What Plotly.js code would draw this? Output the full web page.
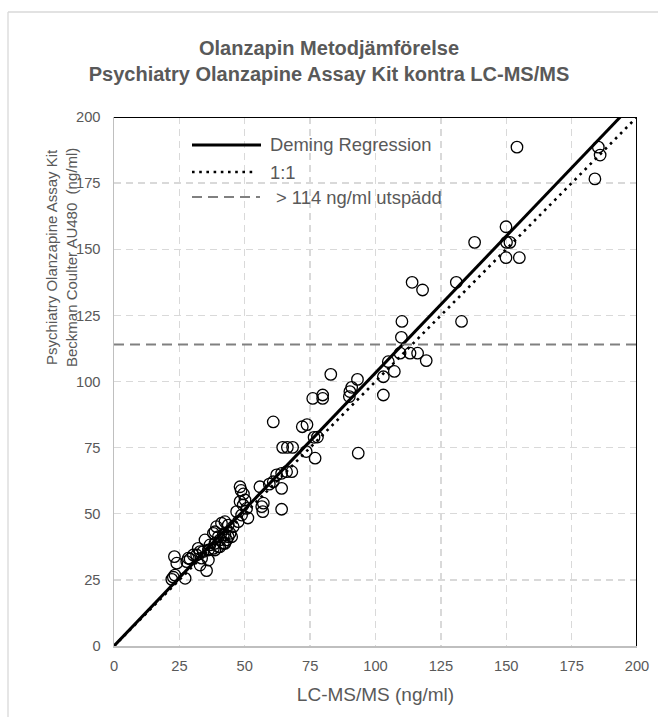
<!DOCTYPE html>
<html>
<head>
<meta charset="utf-8">
<script src="https://cdn.plot.ly/plotly-3.0.1.min.js"></script>
<style>
html,body{margin:0;padding:0;background:#fff;}
#chart{width:658px;height:717px;}
</style>
</head>
<body>
<div id="chart"></div>
<script>
// LC-MS/MS values (x) and Psychiatry Olanzapine Assay Kit values (y), ng/ml
const lcms = [
  23.1, 24.0, 23.3, 22.7, 22.1, 27.2, 27.8, 28.4, 30.3, 35.4,
  32.9, 33.5, 31.6, 32.9, 34.8, 29.1, 32.2, 34.1, 36.1, 36.1,
  38.6, 36.7, 38.6, 40.5, 38.0, 39.9, 41.8, 43.1, 42.4, 38.6,
  44.4, 45.0, 39.2, 41.1, 42.4, 43.7, 45.6, 47.5, 38.0, 39.9,
  41.8, 43.7, 40.5, 42.4, 46.9, 48.8, 51.2, 48.2, 50.1, 49.4,
  50.7, 57.1, 56.5, 56.9, 48.6, 49.5, 48.2, 55.8, 59.4, 60.9,
  62.2, 64.1, 66.0, 68.0, 64.1, 64.1, 64.5, 66.3, 68.3, 60.9,
  72.0, 73.8, 76.5, 77.8, 76.9, 73.5, 82.9, 93.1, 90.9, 90.2,
  90.0, 76.0, 79.8, 79.8, 93.4, 103.0, 103.0, 104.9, 107.2, 109.4,
  113.2, 116.1, 119.4, 109.9, 110.1, 114.0, 118.0, 130.9, 132.9, 137.9,
  149.9, 150.1, 151.4, 149.9, 155.0, 154.1, 185.2, 185.9, 183.9
];
const assay = [
  33.8, 31.3, 26.8, 26.0, 25.2, 25.6, 31.9, 33.2, 34.4, 28.5,
  30.6, 33.2, 34.4, 35.7, 40.1, 32.9, 36.9, 35.7, 36.3, 32.5,
  36.3, 38.2, 38.8, 40.1, 36.9, 37.5, 38.8, 40.1, 42.0, 43.2,
  42.6, 41.3, 45.1, 46.4, 47.0, 45.7, 45.1, 47.0, 42.6, 41.3,
  42.0, 41.3, 37.5, 38.8, 50.8, 49.5, 48.4, 54.6, 55.2, 53.3,
  52.0, 54.0, 52.7, 50.8, 58.8, 57.5, 60.2, 60.2, 61.2, 62.1,
  64.7, 65.3, 65.9, 65.9, 59.6, 51.7, 75.1, 75.1, 75.1, 84.7,
  82.9, 83.7, 78.9, 79.0, 71.0, 73.5, 102.7, 100.8, 97.8, 96.2,
  94.3, 93.6, 94.9, 93.6, 72.9, 101.8, 94.9, 107.5, 103.8, 110.7,
  110.7, 110.7, 107.9, 116.7, 122.7, 137.5, 134.6, 137.5, 122.7, 152.6,
  158.5, 152.6, 152.6, 146.8, 146.8, 188.6, 188.6, 185.6, 176.6
];
const demingSlope = 1.033;
const demingIntercept = 0;
const lineX = [0, 200];
const cutoff = 114;
const tickValues = [0, 25, 50, 75, 100, 125, 150, 175, 200];
const legendNames = ['Deming Regression', '1:1', '> 114 ng/ml utspädd'];

const FONT = 'Liberation Sans, Arial, sans-serif';
const TXT = '#595959';

const traces = [
  {
    x: lineX, y: lineX, mode: 'lines', name: legendNames[1], showlegend: false,
    line: {color: '#000', width: 2.6, dash: '2.6px,4.6px'}, hoverinfo: 'skip'
  },
  {
    x: lineX, y: lineX.map(v => demingIntercept + demingSlope * v), mode: 'lines',
    name: legendNames[0], showlegend: false,
    line: {color: '#000', width: 3}, hoverinfo: 'skip'
  },
  {
    x: lineX, y: lineX.map(() => cutoff), mode: 'lines', name: legendNames[2], showlegend: false,
    line: {color: '#808080', width: 2, dash: '10px,6px'}, hoverinfo: 'skip'
  },
  {
    x: lcms, y: assay, mode: 'markers', name: 'Prover', showlegend: false,
    marker: {symbol: 'circle-open', size: 11.5, color: '#000', line: {width: 1.3, color: '#000'}}
  }
];

function px2x(px){ return (px - 114) / 523; }
function py2y(py){ return (646 - py) / 529; }

const layout = {
  width: 658, height: 717,
  margin: {l: 114, r: 21, t: 117, b: 71, pad: 0},
  paper_bgcolor: '#fff', plot_bgcolor: '#fff',
  font: {family: FONT, color: TXT},
  title: {
    text: 'Olanzapin Metodjämförelse<br>Psychiatry Olanzapine Assay Kit kontra LC-MS/MS',
    font: {family: FONT, size: 20, color: TXT, weight: 'bold'},
    x: 0.5, xref: 'container', xanchor: 'center',
    y: 1 - 55/717, yref: 'container', yanchor: 'middle'
  },
  xaxis: {
    range: [0, 200], tickvals: tickValues, ticktext: tickValues.map(String),
    showgrid: true, gridcolor: '#d9d9d9', gridwidth: 1.4, griddash: '7px,5px',
    zeroline: false, showline: true, linecolor: '#bfbfbf', linewidth: 1.5,
    ticks: '', ticklabelstandoff: 6,
    tickfont: {family: FONT, size: 14.7, color: TXT},
    title: {text: 'LC-MS/MS (ng/ml)', font: {family: FONT, size: 19, color: TXT}, standoff: 14},
    fixedrange: true
  },
  yaxis: {
    range: [0, 200], tickvals: tickValues, ticktext: tickValues.map(String),
    showgrid: true, gridcolor: '#d9d9d9', gridwidth: 1.4, griddash: '7px,5px',
    zeroline: false, showline: true, linecolor: '#bfbfbf', linewidth: 1.5,
    ticks: '', ticklabelstandoff: 9,
    tickfont: {family: FONT, size: 14.7, color: TXT},
    fixedrange: true
  },
  shapes: [
    {type: 'line', xref: 'x', yref: 'y', x0: 0, x1: 200, y0: 200, y1: 200, line: {color: '#000', width: 2}, layer: 'above'},
    {type: 'line', xref: 'x', yref: 'y', x0: 200, x1: 200, y0: 0, y1: 200, line: {color: '#000', width: 2}, layer: 'above'},
    {type: 'line', xref: 'paper', yref: 'paper', x0: px2x(8), x1: px2x(660), y0: py2y(12), y1: py2y(12), line: {color: '#d9d9d9', width: 1.3}},
    {type: 'line', xref: 'paper', yref: 'paper', x0: px2x(8), x1: px2x(8), y0: py2y(12), y1: py2y(720), line: {color: '#d9d9d9', width: 1.3}},
    {type: 'line', xref: 'paper', yref: 'paper', x0: px2x(192), x1: px2x(261), y0: py2y(145), y1: py2y(145), line: {color: '#000', width: 3}},
    {type: 'line', xref: 'paper', yref: 'paper', x0: px2x(192), x1: px2x(253), y0: py2y(172), y1: py2y(172), line: {color: '#000', width: 2.6, dash: '2.6px,4.6px'}},
    {type: 'line', xref: 'paper', yref: 'paper', x0: px2x(192), x1: px2x(260), y0: py2y(197), y1: py2y(197), line: {color: '#808080', width: 2, dash: '10px,6px'}}
  ],
  annotations: [
    {text: legendNames[0], xref: 'paper', yref: 'paper', x: px2x(268), y: py2y(145), xanchor: 'left', yanchor: 'middle', showarrow: false, font: {family: FONT, size: 18.4, color: TXT}},
    {text: legendNames[1], xref: 'paper', yref: 'paper', x: px2x(268), y: py2y(172), xanchor: 'left', yanchor: 'middle', showarrow: false, font: {family: FONT, size: 18.4, color: TXT}},
    {text: legendNames[2], xref: 'paper', yref: 'paper', x: px2x(274), y: py2y(197), xanchor: 'left', yanchor: 'middle', showarrow: false, font: {family: FONT, size: 18.4, color: TXT}},
    {text: 'Psychiatry Olanzapine Assay Kit<br>Beckman Coulter AU480 \u00a0(ng/ml)', xref: 'paper', yref: 'paper',
     x: px2x(61), y: py2y(258), xanchor: 'center', yanchor: 'middle', textangle: -90, showarrow: false,
     font: {family: FONT, size: 15, color: TXT}}
  ],
  showlegend: false
};

Plotly.newPlot('chart', traces, layout, {displayModeBar: false, staticPlot: true});
</script>
</body>
</html>
